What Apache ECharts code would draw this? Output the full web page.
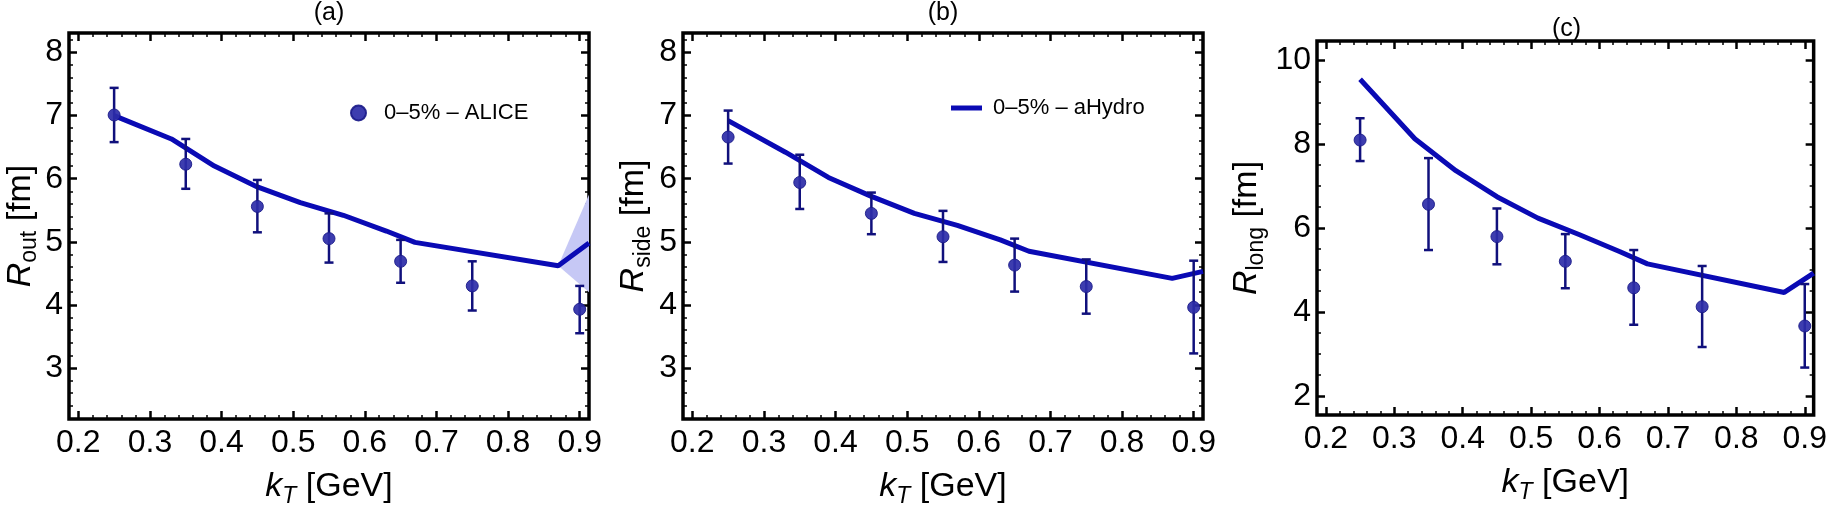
<!DOCTYPE html>
<html>
<head>
<meta charset="utf-8">
<style>
html, body { margin: 0; padding: 0; background: #fff; }
#chart { width: 1830px; height: 513px; }
</style>
<script src="https://cdn.jsdelivr.net/npm/echarts@6/dist/echarts.min.js"></script>
</head>
<body>
<div id="chart"></div>
<script>
// ALICE kT bins (GeV)
const dataKt = [0.25, 0.35, 0.45, 0.55, 0.65, 0.75, 0.9];

// ALICE 0-5% radii (fm) with error bar ends
const outVal  = [7.01, 6.23, 5.56, 5.05, 4.69, 4.30, 3.93];
const outLow  = [6.58, 5.84, 5.15, 4.67, 4.35, 3.91, 3.55];
const outHigh = [7.44, 6.63, 5.98, 5.45, 5.03, 4.69, 4.30];

const sideVal  = [6.66, 5.94, 5.45, 5.08, 4.63, 4.29, 3.96];
const sideLow  = [6.24, 5.52, 5.12, 4.68, 4.21, 3.86, 3.23];
const sideHigh = [7.08, 6.38, 5.78, 5.49, 5.05, 4.72, 4.70];

const longVal  = [8.10, 6.57, 5.80, 5.21, 4.58, 4.13, 3.67];
const longLow  = [7.60, 5.48, 5.14, 4.57, 3.70, 3.17, 2.68];
const longHigh = [8.62, 7.67, 6.47, 5.86, 5.48, 5.10, 4.67];

// aHydro curves
const hydroKt   = [0.25, 0.33, 0.39, 0.45, 0.51, 0.57, 0.63, 0.67, 0.87, 0.913];
const hydroOut  = [7.00, 6.63, 6.20, 5.87, 5.62, 5.42, 5.17, 4.99, 4.62, 4.98];
const hydroSide = [6.92, 6.42, 6.02, 5.72, 5.45, 5.26, 5.03, 4.85, 4.42, 4.53];
const hydroLong = [9.55, 8.13, 7.37, 6.75, 6.24, 5.85, 5.44, 5.15, 4.47, 4.93];

// shaded band at the end of R_out
const bandKt   = [0.87, 0.913];
const bandLow  = [4.62, 4.20];
const bandHigh = [4.62, 5.75];

// tick labels
const xTicks   = [0.2, 0.3, 0.4, 0.5, 0.6, 0.7, 0.8, 0.9];
const yTicksAB = [3, 4, 5, 6, 7, 8];
const yTicksC  = [2, 4, 6, 8, 10];

const FONT = '"Liberation Sans", Arial, sans-serif';
const lineColor = '#0a0ab4';
const pointColor = '#2d2da8';
const errColor = '#10107c';
const bandColor = '#c6c8f5';
const xMin = 0.187, xMax = 0.913;

// minor tick positions between majors
function minorTicks(start, step, count, majors, lo, hi) {
    const out = [];
    for (let i = 0; i < count; i++) {
        const v = Math.round((start + i * step) * 1000) / 1000;
        if (v > lo && v < hi && !majors.some(m => Math.abs(m - v) < 1e-6)) out.push(v);
    }
    return out;
}

const zip = (a, b, c) => a.map((v, i) => c ? [v, b[i], c[i]] : [v, b[i]]);

const nameRich = {
    i: { fontSize: 34, fontStyle: 'italic', fontFamily: FONT, color: '#000', lineHeight: 42 },
    s: { fontSize: 23, fontFamily: FONT, color: '#000', lineHeight: 21, verticalAlign: 'bottom' },
    si: { fontSize: 23, fontStyle: 'italic', fontFamily: FONT, color: '#000', lineHeight: 21, verticalAlign: 'bottom' },
    n: { fontSize: 34, fontFamily: FONT, color: '#000', lineHeight: 42 }
};

const panels = [
    { title: '(a)', yName: '{i|R}{s|out}{n| [fm]}', val: outVal, low: outLow, high: outHigh, hydro: hydroOut,
      grid: { left: 69, top: 33, width: 520, height: 392 }, yMin: 2.19, yMax: 8.31,
      yTicks: yTicksAB, yMinor: minorTicks(2, 0.2, 35, yTicksAB, 2.19, 8.31), yNameGap: 26, titleTop: 1 },
    { title: '(b)', yName: '{i|R}{s|side}{n| [fm]}', val: sideVal, low: sideLow, high: sideHigh, hydro: hydroSide,
      grid: { left: 683, top: 33, width: 520, height: 392 }, yMin: 2.19, yMax: 8.31,
      yTicks: yTicksAB, yMinor: minorTicks(2, 0.2, 35, yTicksAB, 2.19, 8.31), yNameGap: 28, titleTop: 1 },
    { title: '(c)', yName: '{i|R}{s|long}{n| [fm]}', val: longVal, low: longLow, high: longHigh, hydro: hydroLong,
      grid: { left: 1317, top: 41, width: 499, height: 374 }, yMin: 1.55, yMax: 10.46,
      yTicks: yTicksC, yMinor: minorTicks(1.5, 0.5, 20, yTicksC, 1.55, 10.46), yNameGap: 49, titleTop: 17 }
];

const xMinor = minorTicks(0.18, 0.02, 40, xTicks, xMin, xMax);

const option = {
    backgroundColor: '#fff',
    animation: false,
    title: [], grid: [], xAxis: [], yAxis: [], series: [],
    legend: [
        {
            data: [{ name: '0–5% – ALICE', icon: 'circle' }],
            left: 350, top: 102, padding: 0, itemWidth: 15, itemHeight: 15, selectedMode: false,
            textStyle: { fontSize: 22, fontFamily: FONT, color: '#000', padding: [0, 0, 0, 13] }
        },
        {
            data: [{ name: '0–5% – aHydro', icon: 'rect' }],
            left: 951, top: 97, padding: 0, itemWidth: 31, itemHeight: 5, selectedMode: false,
            textStyle: { fontSize: 22, fontFamily: FONT, color: '#000', padding: [0, 0, 0, 6] }
        }
    ]
};

function tickStyle(len, width) {
    return { show: true, inside: true, length: len, lineStyle: { color: '#000', width: width } };
}

panels.forEach((p, gi) => {
    option.grid.push(Object.assign({ show: true, borderColor: '#000', borderWidth: 3.5, backgroundColor: 'transparent' }, p.grid));
    option.title.push({
        text: p.title, left: p.grid.left + p.grid.width / 2, top: p.titleTop, textAlign: 'center', padding: 0,
        textStyle: { fontSize: 25, fontWeight: 'normal', fontFamily: FONT, color: '#000' }
    });

    const xBase = { type: 'value', gridIndex: gi, min: xMin, max: xMax, offset: 0,
        axisLine: { show: false, onZero: false }, splitLine: { show: false } };
    const yBase = { type: 'value', gridIndex: gi, min: p.yMin, max: p.yMax, offset: 0,
        axisLine: { show: false, onZero: false }, splitLine: { show: false } };

    const xi = option.xAxis.length;
    option.xAxis.push(Object.assign({}, xBase, {
        position: 'bottom',
        axisTick: Object.assign(tickStyle(8, 2.5), { customValues: xTicks }),
        axisLabel: { show: true, customValues: xTicks, formatter: v => v.toFixed(1), margin: 8,
            fontSize: 32, fontFamily: FONT, color: '#000' },
        name: '{i|k}{si|T}{n| [GeV]}', nameLocation: 'middle', nameGap: 47,
        nameTextStyle: { rich: nameRich }
    }));
    option.xAxis.push(Object.assign({}, xBase, { position: 'bottom',
        axisTick: Object.assign(tickStyle(4, 1.5), { customValues: xMinor }), axisLabel: { show: false } }));
    option.xAxis.push(Object.assign({}, xBase, { position: 'top',
        axisTick: Object.assign(tickStyle(8, 2.5), { customValues: xTicks }), axisLabel: { show: false } }));
    option.xAxis.push(Object.assign({}, xBase, { position: 'top',
        axisTick: Object.assign(tickStyle(4, 1.5), { customValues: xMinor }), axisLabel: { show: false } }));

    const yi = option.yAxis.length;
    option.yAxis.push(Object.assign({}, yBase, {
        position: 'left',
        axisTick: Object.assign(tickStyle(8, 2.5), { customValues: p.yTicks }),
        axisLabel: { show: true, customValues: p.yTicks, formatter: v => String(v), margin: 6,
            fontSize: 32, fontFamily: FONT, color: '#000' },
        name: p.yName, nameLocation: 'middle', nameGap: p.yNameGap, nameRotate: 90,
        nameTextStyle: { rich: nameRich }
    }));
    option.yAxis.push(Object.assign({}, yBase, { position: 'left',
        axisTick: Object.assign(tickStyle(4, 1.5), { customValues: p.yMinor }), axisLabel: { show: false } }));
    option.yAxis.push(Object.assign({}, yBase, { position: 'right',
        axisTick: Object.assign(tickStyle(8, 2.5), { customValues: p.yTicks }), axisLabel: { show: false } }));
    option.yAxis.push(Object.assign({}, yBase, { position: 'right',
        axisTick: Object.assign(tickStyle(4, 1.5), { customValues: p.yMinor }), axisLabel: { show: false } }));

    if (gi === 0) {
        option.series.push({
            type: 'custom', xAxisIndex: xi, yAxisIndex: yi, z: 1, silent: true,
            data: [[bandKt[0], bandLow[0]]],
            encode: { x: 0, y: 1 },
            renderItem: function (params, api) {
                const pts = bandKt.map((k, i) => api.coord([k, bandHigh[i]]));
                for (let i = bandKt.length - 1; i >= 0; i--) pts.push(api.coord([bandKt[i], bandLow[i]]));
                return { type: 'polygon', shape: { points: pts }, style: { fill: bandColor } };
            }
        });
    }

    option.series.push({
        name: '0–5% – aHydro', type: 'line', xAxisIndex: xi, yAxisIndex: yi, z: 2,
        data: zip(hydroKt, p.hydro), showSymbol: false, symbol: 'none',
        itemStyle: { color: lineColor },
        lineStyle: { color: lineColor, width: 5 }
    });

    option.series.push({
        type: 'custom', xAxisIndex: xi, yAxisIndex: yi, z: 3, silent: true,
        data: zip(dataKt, p.low, p.high),
        encode: { x: 0, y: [1, 2] },
        renderItem: function (params, api) {
            const x = api.value(0);
            const lo = api.coord([x, api.value(1)]);
            const hi = api.coord([x, api.value(2)]);
            const cap = 4.5;
            const style = { stroke: errColor, lineWidth: 2.5 };
            return { type: 'group', children: [
                { type: 'line', shape: { x1: lo[0], y1: lo[1], x2: hi[0], y2: hi[1] }, style: style },
                { type: 'line', shape: { x1: lo[0] - cap, y1: lo[1], x2: lo[0] + cap, y2: lo[1] }, style: style },
                { type: 'line', shape: { x1: hi[0] - cap, y1: hi[1], x2: hi[0] + cap, y2: hi[1] }, style: style }
            ] };
        }
    });

    option.series.push({
        name: '0–5% – ALICE', type: 'scatter', xAxisIndex: xi, yAxisIndex: yi, z: 4,
        data: zip(dataKt, p.val), symbolSize: 12,
        itemStyle: { color: pointColor, borderColor: '#1c1c8a', borderWidth: 1, opacity: 0.92 }
    });
});

const chart = echarts.init(document.getElementById('chart'));
chart.setOption(option);
</script>
</body>
</html>
